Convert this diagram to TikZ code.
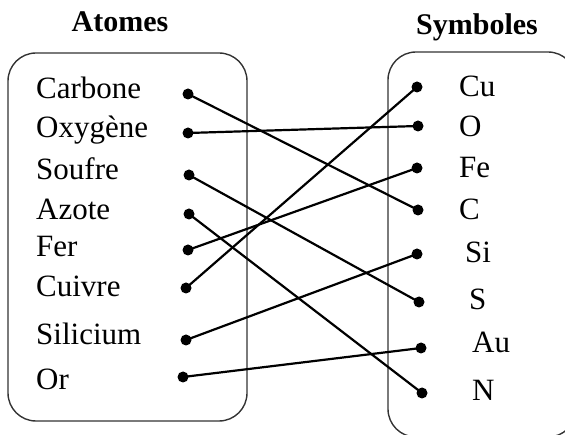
\documentclass[tikz,border=0pt]{standalone}
\usepackage{fontspec}
\setmainfont{Liberation Serif}
\usepackage{tikz}
\newcommand{\atomitem}[5]{\node[lbl] (#1-t) at (36,#5) {#2};
  \node[pt] (#1) at (#3,#4) {};}
\newcommand{\symbitem}[6]{\node[lbl] (#1-t) at (#5,#6) {#2};
  \node[pt] (#1) at (#3,#4) {};}
\tikzset{
  pt/.style={circle,fill=black,inner sep=0pt,minimum size=11pt},
  lbl/.style={anchor=base west,inner sep=0pt,font=\fontsize{31}{36}\selectfont},
  ttl/.style={anchor=base,inner sep=0pt,font=\fontsize{30}{36}\selectfont\bfseries},
  link/.style={line width=2.2pt},
  groupbox/.style={draw=black!80,line width=1.4pt,rounded corners=28pt}
}

\begin{document}
\begin{tikzpicture}[x=1pt,y=-1pt]
\useasboundingbox (0,0) rectangle (565,435);
\clip (0,0) rectangle (565,435);
% boxes
\draw[groupbox] (8,53) rectangle (247,421);
\draw[groupbox] (388,52) rectangle (576,437);
% titles
\node[ttl] (atomes) at (120,32) {Atomes};
\node[ttl] (symboles) at (477,35) {Symboles};
% left column
\atomitem{carbone}{Carbone}{188}{94}{99}
\atomitem{oxygene}{Oxygène}{188}{133}{138}
\atomitem{soufre}{Soufre}{189}{175}{180}
\atomitem{azote}{Azote}{189}{214}{220}
\atomitem{fer}{Fer}{188}{250}{257}
\atomitem{cuivre}{Cuivre}{186}{288}{297}
\atomitem{silicium}{Silicium}{186}{340}{345}
\atomitem{or}{Or}{183}{377}{390}
% right column
\symbitem{cu}{Cu}{417}{87}{459}{97}
\symbitem{o}{O}{418}{126}{459}{137}
\symbitem{fe}{Fe}{417}{168}{459}{178}
\symbitem{c}{C}{418}{210}{459}{220}
\symbitem{si}{Si}{417}{254}{465}{263}
\symbitem{s}{S}{419}{302}{469}{310}
\symbitem{au}{Au}{421}{348}{472}{353}
\symbitem{n}{N}{422}{393}{472}{401}
% links
\draw[link] (carbone.center) -- (c.center);
\draw[link] (oxygene.center) -- (o.center);
\draw[link] (soufre.center) -- (s.center);
\draw[link] (azote.center) -- (n.center);
\draw[link] (fer.center) -- (fe.center);
\draw[link] (cuivre.center) -- (cu.center);
\draw[link] (silicium.center) -- (si.center);
\draw[link] (or.center) -- (au.center);
\end{tikzpicture}
\end{document}
